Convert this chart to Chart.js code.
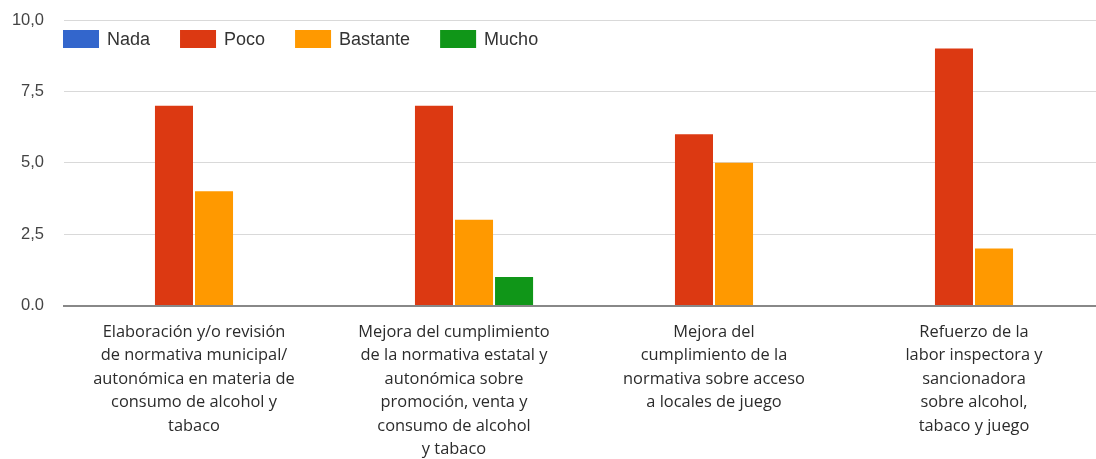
<!DOCTYPE html>
<html>
<head>
<meta charset="utf-8">
<script src="https://cdn.jsdelivr.net/npm/chart.js@4/dist/chart.umd.min.js"></script>
<style>
html,body{margin:0;padding:0;background:#fff;overflow:hidden;}
#wrap{width:1104px;height:459px;position:relative;}
</style>
</head>
<body>
<div id="wrap"><canvas id="c" width="1104" height="459"></canvas></div>
<script>
const categories = [
  ["Elaboración y/o revisión","de normativa municipal/","autonómica en materia de","consumo de alcohol y","tabaco"],
  ["Mejora del cumplimiento","de la normativa estatal y","autonómica sobre","promoción, venta y","consumo de alcohol","y tabaco"],
  ["Mejora del","cumplimiento de la","normativa sobre acceso","a locales de juego"],
  ["Refuerzo de la","labor inspectora y","sancionadora","sobre alcohol,","tabaco y juego"]
];
const seriesNames = ["Nada","Poco","Bastante","Mucho"];
const nada     = [0, 0, 0, 0];
const poco     = [7, 7, 6, 9];
const bastante = [4, 3, 5, 2];
const mucho    = [0, 1, 0, 0];
const yTickValues = [0, 2.5, 5, 7.5, 10];
const yTickLabels = ["0.0", "2,5", "5,0", "7,5", "10,0"];
const colors = ["#3366cc", "#dc3912", "#ff9900", "#109618"];

const legendPlugin = {
  id: 'overlayLegend',
  afterDraw(chart) {
    const ctx = chart.ctx;
    ctx.save();
    ctx.font = '18px "Liberation Sans", Arial, sans-serif';
    ctx.textBaseline = 'middle';
    let x = 63;
    const y = 39;
    chart.data.datasets.forEach(ds => {
      ctx.fillStyle = ds.backgroundColor;
      ctx.fillRect(x, y - 9, 36, 18);
      x += 36 + 8;
      ctx.fillStyle = '#333';
      ctx.textAlign = 'left';
      ctx.fillText(ds.label, x, y + 1);
      x += ctx.measureText(ds.label).width + 30;
    });
    ctx.restore();
  }
};

const valuesList = [nada, poco, bastante, mucho];
new Chart(document.getElementById('c'), {
  type: 'bar',
  data: {
    labels: categories,
    datasets: seriesNames.map((n, i) => ({
      label: n,
      data: valuesList[i],
      backgroundColor: colors[i],
      borderWidth: 0,
      categoryPercentage: 0.616,
      barPercentage: 0.95
    }))
  },
  options: {
    responsive: false,
    animation: false,
    layout: { padding: { top: 20, right: 0, left: 0, bottom: 0 } },
    plugins: { legend: { display: false }, tooltip: { enabled: false } },
    scales: {
      x: {
        grid: { display: false, drawTicks: false },
        border: { display: true, color: '#888', width: 2 },
        ticks: {
          color: '#2b2b2b',
          padding: 15,
          maxRotation: 0,
          autoSkip: false,
          font: { family: '"Open Sans", sans-serif', size: 16.4, lineHeight: 1.43 }
        },
        afterFit(scale) { scale.height = 153.5; scale.paddingLeft = 0; scale.paddingRight = 0; }
      },
      y: {
        min: 0, max: 10,
        afterBuildTicks(scale) { scale.ticks = yTickValues.map(v => ({ value: v })); },
        grid: { color: '#d9d9d9', lineWidth: 1, drawTicks: false },
        border: { display: false },
        ticks: {
          color: '#444',
          padding: 20,
          font: { family: '"Liberation Sans", Arial, sans-serif', size: 16.5 },
          callback(value) {
            const i = yTickValues.indexOf(value);
            return i >= 0 ? yTickLabels[i] : '';
          }
        },
        afterFit(scale) { scale.width = 64; scale.paddingTop = 0; scale.paddingBottom = 0; }
      }
    }
  },
  plugins: [legendPlugin]
});
</script>
</body>
</html>
